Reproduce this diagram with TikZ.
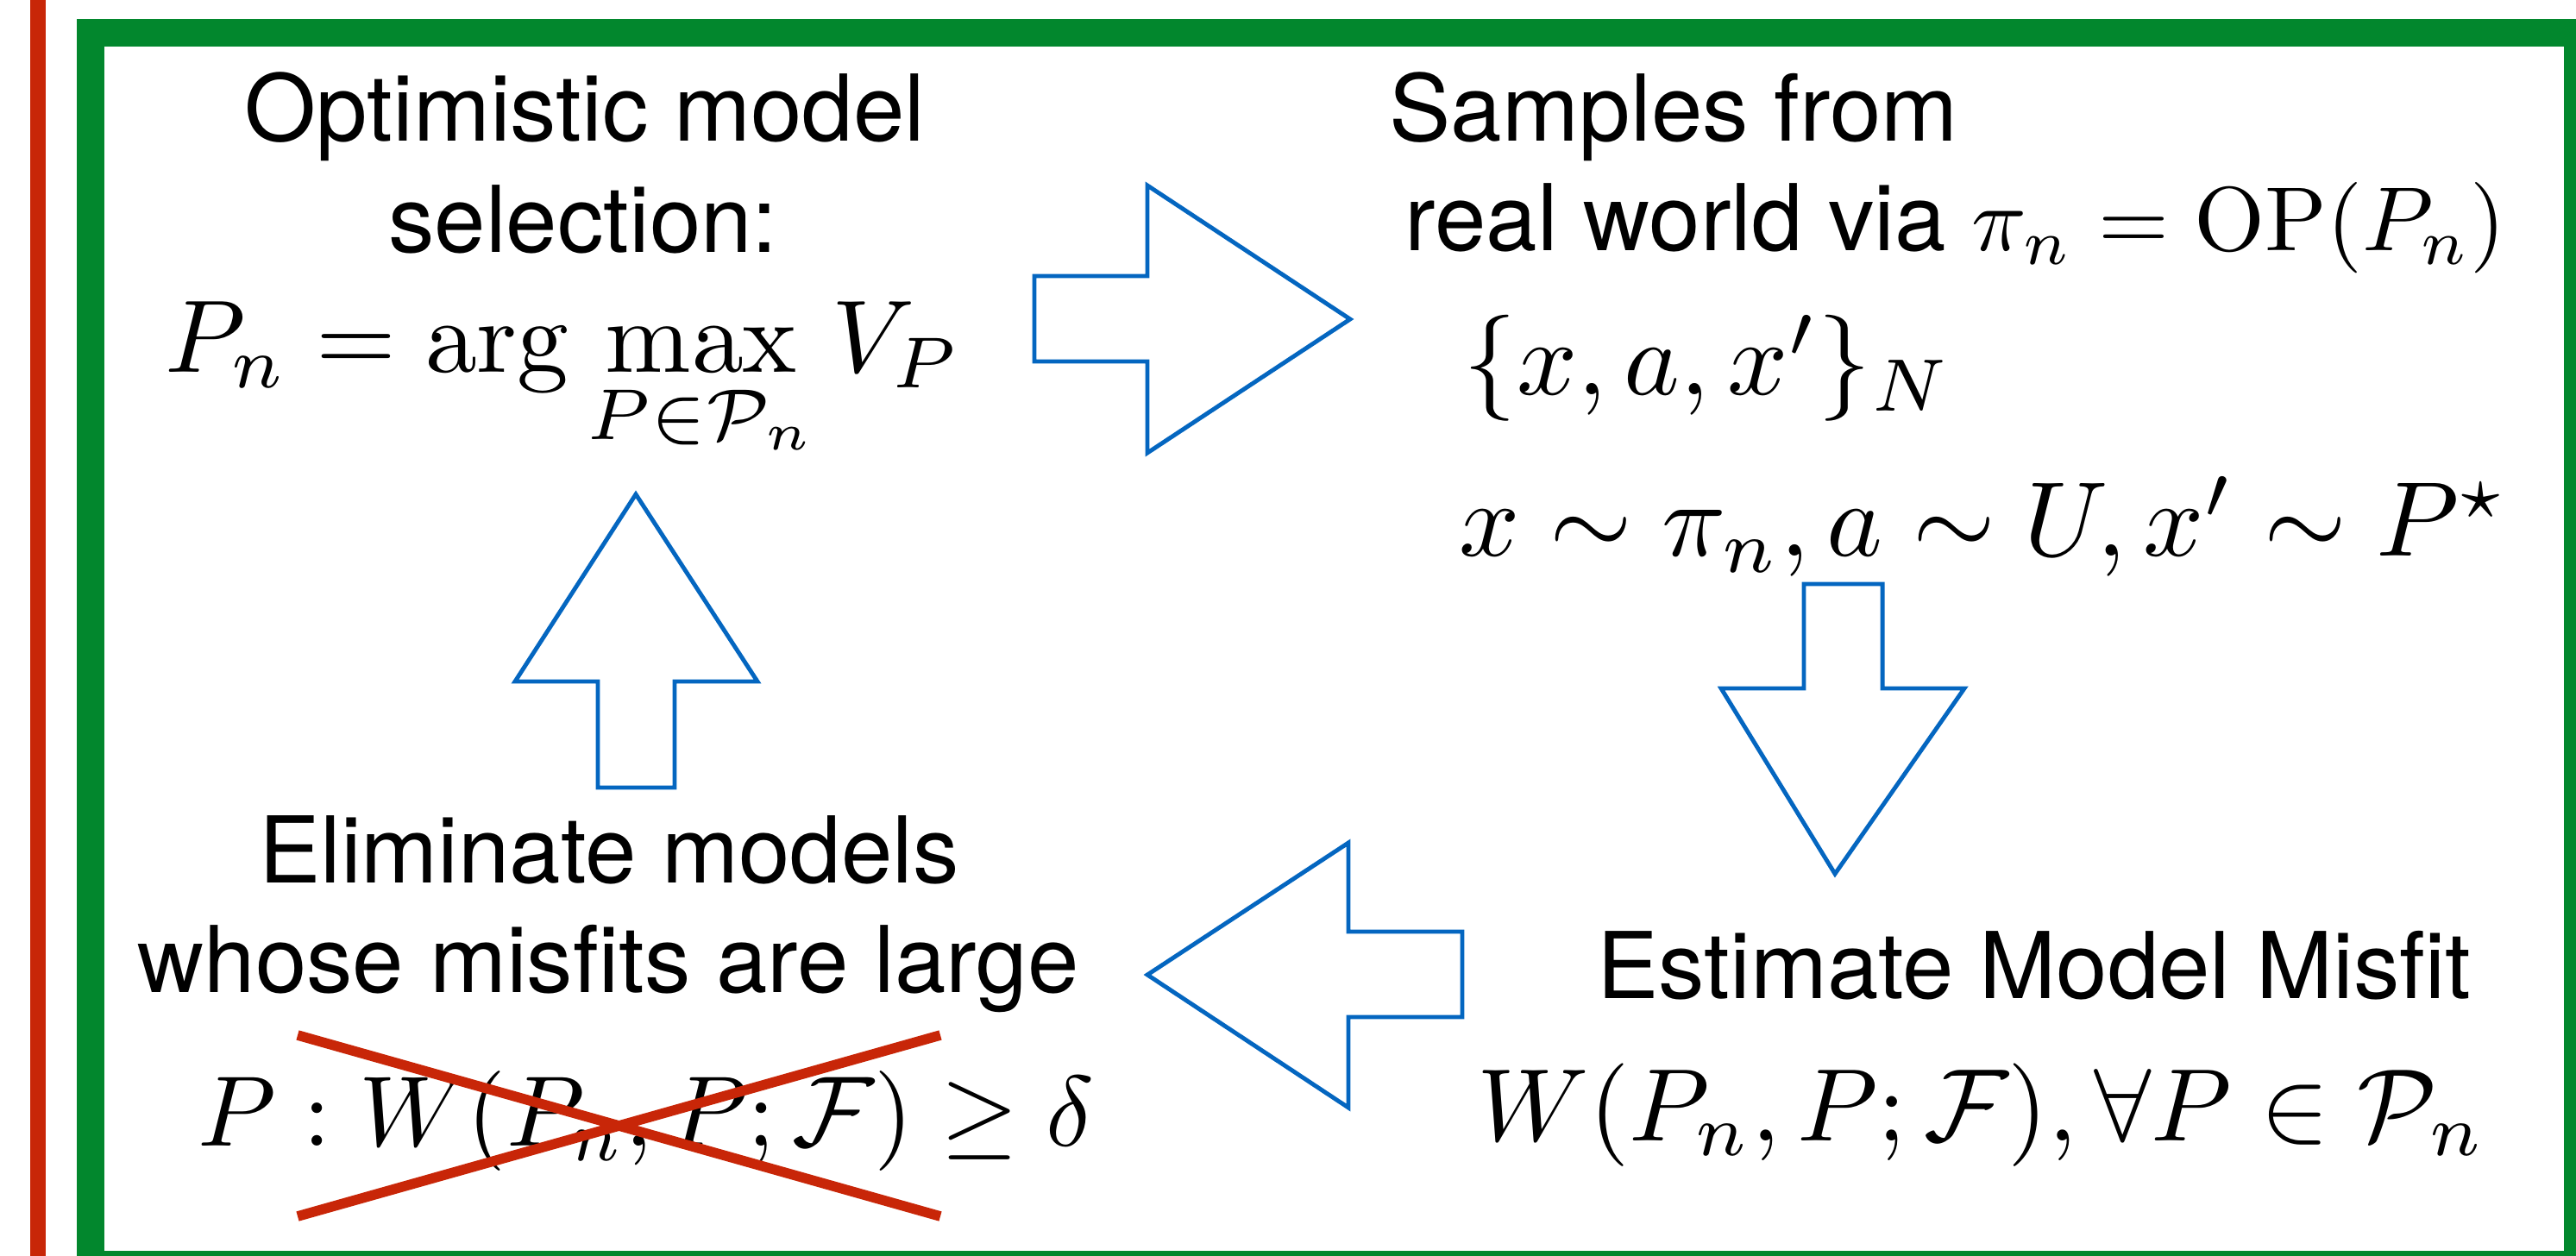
\RequirePackage{fix-cm}
\documentclass[tikz,border=0pt]{standalone}
\usepackage[no-math]{fontspec}
\newfontfamily\helv{TeX Gyre Heros}
\definecolor{framegreen}{RGB}{2,135,45}
\definecolor{crossred}{RGB}{200,38,8}
\definecolor{arrowblue}{RGB}{4,102,192}
% math set at 10pt and blown up, so the glyphs keep their 10pt shapes
\newcommand{\bigmath}[2]{\scalebox{#1}{\fontsize{10}{12}\selectfont$#2$}}
\tikzset{
	txt/.style={inner sep=0pt, anchor=base, font=\helv\fontsize{30.4}{36}\selectfont},
	mth/.style={inner sep=0pt, anchor=base},
	blockarrow/.style={draw=arrowblue, line width=1.4pt, line join=miter},
	strike/.style={crossred, line width=3.3pt}
}

\begin{document}
\begin{tikzpicture}
	\useasboundingbox (0,0) rectangle (29.86,-14.56);
	\clip (0,0) rectangle (29.86,-14.56);
	% frames
	\draw [crossred, line width=0.18cm] (0.44, 0.2) -- (0.44, -14.8);
	\draw [framegreen, line width=0.32cm] (1.05, -0.38) rectangle (29.88, -14.66);
	% optimistic model selection
	\node [txt] (optA) at (6.78, -1.64) {Optimistic model};
	\node [txt] (optB) at (6.76, -2.93) {selection:};
	\node [mth, anchor=base west] (optF) at (1.91, -4.32) {\bigmath{3.4}{\displaystyle P_n = \arg\max_{P\in\mathcal{P}_n} V_P}};
	% samples from real world
	\node [txt, anchor=base west] (smpA) at (16.10, -1.64) {Samples from};
	\node [txt, anchor=base west] (smpB) at (16.28, -2.91) {real world via \bigmath{3.0}{\pi_n = \mathrm{OP}(P_n)}};
	\node [mth, anchor=base west] (smpC) at (16.96, -4.58) {\bigmath{3.5}{\{x, a, x'\}_N}};
	\node [mth, anchor=base west] (smpD) at (16.91, -6.45) {\bigmath{3.5}{x \sim \pi_n, a \sim U, x' \sim P^\star}};
	% estimate model misfit
	\node [txt] (estA) at (23.58, -11.57) {Estimate Model Misfit};
	\node [mth] (estF) at (22.97, -13.22) {\bigmath{3.4}{W(P_n, P; \mathcal{F}), \forall P \in \mathcal{P}_n}};
	% eliminate models
	\node [txt] (elimA) at (7.06, -10.23) {Eliminate models};
	\node [txt] (elimB) at (7.05, -11.50) {whose misfits are large};
	\node [mth] (elimF) at (7.49, -13.28) {\bigmath{3.3}{P : W(P_n, P; \mathcal{F}) \geq \delta}};
	\coordinate (crossNW) at (3.45, -12.00);
	\coordinate (crossNE) at (10.90, -12.00);
	\coordinate (crossSW) at (3.45, -14.10);
	\coordinate (crossSE) at (10.90, -14.10);
	\draw [strike] (crossNW) -- (crossSE);
	\draw [strike] (crossSW) -- (crossNE);
	% block arrows
	\draw [blockarrow] (11.99, -3.20) -- (13.30, -3.20) -- (13.30, -2.15) -- (15.65, -3.70)
		-- (13.30, -5.25) -- (13.30, -4.19) -- (11.99, -4.19) -- cycle;
	\draw [blockarrow] (20.91, -6.77) -- (21.82, -6.77) -- (21.82, -7.98) -- (22.77, -7.98)
		-- (21.27, -10.13) -- (19.95, -7.98) -- (20.91, -7.98) -- cycle;
	\draw [blockarrow] (16.95, -10.80) -- (15.63, -10.80) -- (15.63, -9.77) -- (13.30, -11.30)
		-- (15.63, -12.84) -- (15.63, -11.79) -- (16.95, -11.79) -- cycle;
	\draw [blockarrow] (6.93, -9.13) -- (6.93, -7.90) -- (5.97, -7.90) -- (7.37, -5.73)
		-- (8.78, -7.90) -- (7.82, -7.90) -- (7.82, -9.13) -- cycle;
\end{tikzpicture}
\end{document}
